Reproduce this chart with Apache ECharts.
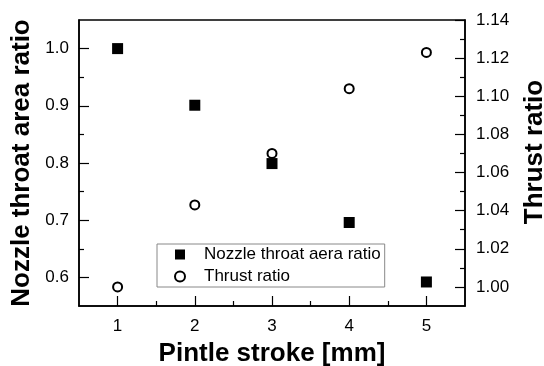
<!DOCTYPE html>
<html>
<head>
<meta charset="utf-8">
<script src="https://cdn.jsdelivr.net/npm/echarts@6/dist/echarts.min.js"></script>
<style>
html,body{margin:0;padding:0;background:#fff;}
#chart{width:544px;height:366px;}
</style>
</head>
<body>
<div id="chart"></div>
<script>
var strokes = [1, 2, 3, 4, 5];
var areaRatio = [1.0, 0.901, 0.799, 0.696, 0.592];
var thrustRatio = [1.000, 1.043, 1.070, 1.104, 1.123];

var xTicks = [1, 2, 3, 4, 5];
var xMinor = [1.5, 2.5, 3.5, 4.5];
var leftTicks = [0.6, 0.7, 0.8, 0.9, 1.0];
var leftMinor = [0.65, 0.75, 0.85, 0.95];
var rightTicks = [1.00, 1.02, 1.04, 1.06, 1.08, 1.10, 1.12, 1.14];
var rightMinor = [1.01, 1.03, 1.05, 1.07, 1.09, 1.11, 1.13];

var FONT = '"Liberation Sans", Arial, sans-serif';
var chart = echarts.init(document.getElementById('chart'), null, {renderer: 'canvas'});

function pairs(xs, ys) { return xs.map(function (x, i) { return [x, ys[i]]; }); }

var lineStyle = {color: '#000', width: 1.5};
var nameStyle = {color: '#000', fontSize: 26, fontWeight: 'bold', fontFamily: FONT};

var option = {
  backgroundColor: '#fff',
  animation: false,
  grid: {left: 79, right: 79, top: 20, bottom: 60, outerBoundsMode: 'none', containLabel: false,
         show: true, borderColor: '#000', borderWidth: 1.5, backgroundColor: 'transparent'},
  legend: {
    left: 157, top: 244, orient: 'vertical',
    padding: [2, 4, 2, 17], itemGap: 5,
    itemWidth: 38, itemHeight: 10,
    borderColor: '#888', borderWidth: 1, backgroundColor: '#fff',
    textStyle: {color: '#000', fontSize: 17, fontFamily: FONT},
    data: [
      {name: 'Nozzle throat aera ratio', icon: 'path://M0,0H10V10H0Z', itemStyle: {color: '#000', borderWidth: 0, opacity: 1}},
      {name: 'Thrust ratio', icon: 'circle', itemStyle: {color: '#fff', borderColor: '#000', borderWidth: 2, opacity: 1}}
    ]
  },
  xAxis: [
    {
      type: 'value', position: 'bottom', min: 0.5, max: 5.5, interval: 0.5,
      name: 'Pintle stroke [mm]', nameLocation: 'middle', nameGap: 35, nameTextStyle: nameStyle,
      axisLine: {show: true, lineStyle: lineStyle},
      axisTick: {show: true, inside: true, length: 10, customValues: xTicks, lineStyle: {color: '#000', width: 1.2}},
      axisLabel: {show: true, customValues: xTicks, margin: 12, formatter: function (v) { return String(Math.round(v)); }, color: '#000', fontSize: 17, fontFamily: FONT},
      splitLine: {show: false}
    },
    {
      type: 'value', position: 'bottom', min: 0.5, max: 5.5, interval: 0.5,
      axisLine: {show: false},
      axisTick: {show: true, inside: true, length: 5, customValues: xMinor, lineStyle: {color: '#000', width: 1.2}},
      axisLabel: {show: false},
      splitLine: {show: false}
    }
  ],
  yAxis: [
    {
      type: 'value', position: 'left', min: 0.55, max: 1.05, interval: 0.05,
      name: 'Nozzle throat area ratio', nameLocation: 'middle', nameGap: 42, nameTextStyle: nameStyle,
      axisLine: {show: true, lineStyle: lineStyle},
      axisTick: {show: true, inside: true, length: 10, customValues: leftTicks, lineStyle: {color: '#000', width: 1.2}},
      axisLabel: {show: true, customValues: leftTicks, margin: 10, formatter: function (v) { return v.toFixed(1); }, color: '#000', fontSize: 17, fontFamily: FONT},
      splitLine: {show: false}
    },
    {
      type: 'value', position: 'left', min: 0.55, max: 1.05, interval: 0.05,
      axisLine: {show: false},
      axisTick: {show: true, inside: true, length: 5, customValues: leftMinor, lineStyle: {color: '#000', width: 1.2}},
      axisLabel: {show: false},
      splitLine: {show: false}
    },
    {
      type: 'value', position: 'right', min: 0.99, max: 1.14, interval: 0.01,
      name: 'Thrust ratio', nameLocation: 'middle', nameGap: 57, nameRotate: 90,
      nameTextStyle: {color: '#000', fontSize: 26, fontWeight: 'bold', fontFamily: FONT, padding: [0, 0, 0, 22]},
      axisLine: {show: true, lineStyle: lineStyle},
      axisTick: {show: true, inside: true, length: 10, customValues: rightTicks, lineStyle: {color: '#000', width: 1.2}},
      axisLabel: {show: true, customValues: rightTicks, margin: 11, formatter: function (v) { return v.toFixed(2); }, color: '#000', fontSize: 17, fontFamily: FONT},
      splitLine: {show: false}
    },
    {
      type: 'value', position: 'right', min: 0.99, max: 1.14, interval: 0.01,
      axisLine: {show: false},
      axisTick: {show: true, inside: true, length: 5, customValues: rightMinor, lineStyle: {color: '#000', width: 1.2}},
      axisLabel: {show: false},
      splitLine: {show: false}
    }
  ],
  series: [
    {
      name: 'Thrust ratio', type: 'scatter', xAxisIndex: 0, yAxisIndex: 2,
      symbol: 'circle', symbolSize: 9,
      itemStyle: {color: '#fff', borderColor: '#000', borderWidth: 2, opacity: 1},
      data: pairs(strokes, thrustRatio), z: 2
    },
    {
      name: 'Nozzle throat aera ratio', type: 'scatter', xAxisIndex: 0, yAxisIndex: 0,
      symbol: 'rect', symbolSize: 11,
      itemStyle: {color: '#000', opacity: 1},
      data: pairs(strokes, areaRatio), z: 3
    }
  ]
};
chart.setOption(option);
</script>
</body>
</html>
